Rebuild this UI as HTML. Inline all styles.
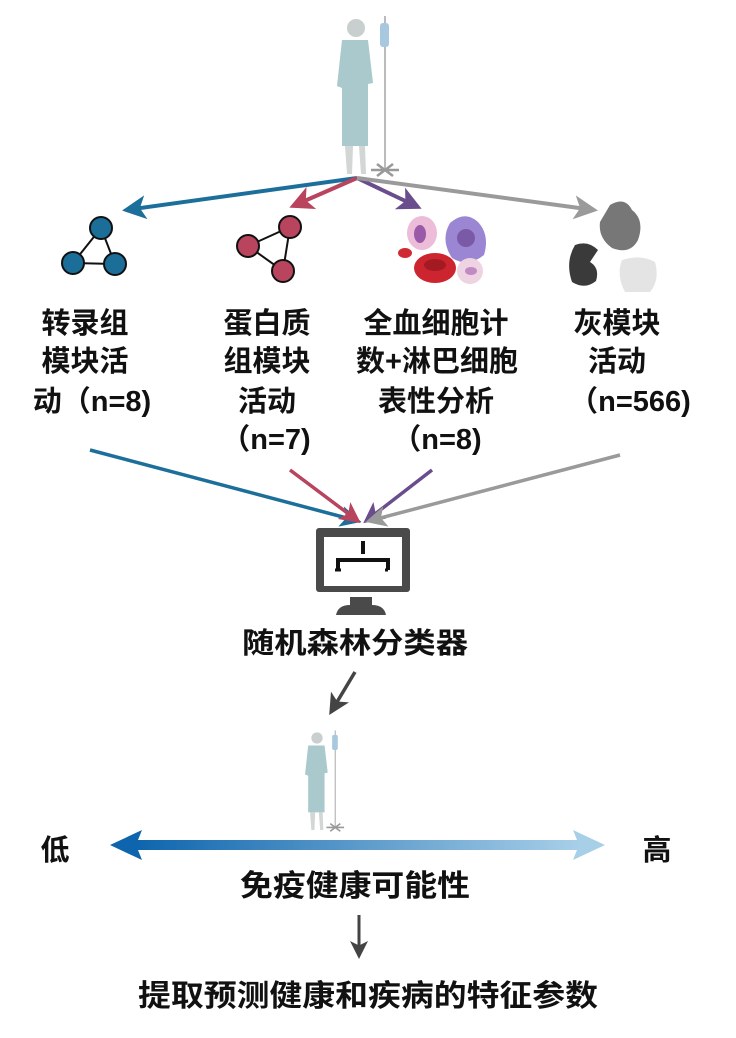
<!DOCTYPE html>
<html><head><meta charset="utf-8"><style>
body{margin:0;background:#fff}
text{font-family:"Liberation Sans","Noto Sans CJK SC",sans-serif;font-weight:bold;fill:#111}
</style></head><body>
<svg width="736" height="1033" viewBox="0 0 736 1033" xmlns="http://www.w3.org/2000/svg">
<defs>
<marker id="mb" markerWidth="6" markerHeight="6" refX="5" refY="3" orient="auto" markerUnits="strokeWidth"><path d="M0,0 L6,3 L0,6 L1.5,3z" fill="#1b6f9a"/></marker>
<marker id="mr" markerWidth="6" markerHeight="6" refX="5" refY="3" orient="auto" markerUnits="strokeWidth"><path d="M0,0 L6,3 L0,6 L1.5,3z" fill="#b8445e"/></marker>
<marker id="mp" markerWidth="6" markerHeight="6" refX="5" refY="3" orient="auto" markerUnits="strokeWidth"><path d="M0,0 L6,3 L0,6 L1.5,3z" fill="#6a4d8c"/></marker>
<marker id="mg" markerWidth="6" markerHeight="6" refX="5" refY="3" orient="auto" markerUnits="strokeWidth"><path d="M0,0 L6,3 L0,6 L1.5,3z" fill="#9a9a9a"/></marker>
<marker id="md" markerWidth="6" markerHeight="6" refX="5" refY="3" orient="auto" markerUnits="strokeWidth"><path d="M0,0 L6,3 L0,6 L1.5,3z" fill="#444"/></marker>
<linearGradient id="gb" x1="0" x2="1"><stop offset="0" stop-color="#0e65ad"/><stop offset="1" stop-color="#a8cfe8"/></linearGradient>
<g id="pat">
<circle cx="0" cy="0" r="9" fill="#c9cfce"/>
<path d="M-14,12 L12,12 L17,55 L12,56 L12,118 L-14,118 L-14,60 L-19,58z" fill="#a9c9cc"/>
<path d="M-11,118 L-9,146 L-4,146 L-3,118z M3,118 L5,146 L10,146 L9,118z" fill="#d2d6d5"/>
<line x1="29" y1="-12" x2="29" y2="142" stroke="#bbb" stroke-width="2"/>
<rect x="24" y="-5" width="9" height="24" rx="3" fill="#a8c8e0"/>
<path d="M15,142 L43,142 M21,136 L37,148 M37,136 L21,148" stroke="#999" stroke-width="2.5"/>
</g>
</defs>

<!-- top patient -->
<use href="#pat" x="356" y="28"/>

<!-- top arrows -->
<g stroke-width="4" fill="none">
<line x1="357" y1="178" x2="126" y2="210" stroke="#1b6f9a" marker-end="url(#mb)"/>
<line x1="357" y1="178" x2="293" y2="206" stroke="#b8445e" marker-end="url(#mr)"/>
<line x1="357" y1="178" x2="418" y2="207" stroke="#6a4d8c" marker-end="url(#mp)"/>
<line x1="357" y1="178" x2="594" y2="210" stroke="#9a9a9a" marker-end="url(#mg)"/>
</g>

<!-- blue network -->
<g stroke="#111" stroke-width="2">
<line x1="101" y1="228" x2="73" y2="263"/><line x1="101" y1="228" x2="115" y2="264"/><line x1="73" y1="263" x2="115" y2="264"/>
<circle cx="101" cy="228" r="11" fill="#1a6e98"/><circle cx="73" cy="263" r="11" fill="#1a6e98"/><circle cx="115" cy="264" r="11" fill="#1a6e98"/>
<line x1="248" y1="246" x2="290" y2="227" stroke="#111"/><line x1="290" y1="227" x2="283" y2="271"/><line x1="248" y1="246" x2="283" y2="271"/>
<circle cx="248" cy="246" r="11" fill="#b8445e"/><circle cx="290" cy="227" r="11" fill="#b8445e"/><circle cx="283" cy="271" r="11" fill="#b8445e"/>
</g>
<!-- cells -->
<ellipse cx="422" cy="233" rx="15" ry="17" fill="#ecbcd8"/><ellipse cx="420" cy="234" rx="6" ry="9" fill="#9a5aa8"/>
<path d="M450,223 Q465,210 478,222 Q490,235 484,255 Q468,268 452,258 Q440,240 450,223z" fill="#9a86d2"/><circle cx="466" cy="238" r="9" fill="#7a5aa6"/>
<ellipse cx="405" cy="253" rx="7" ry="5" fill="#d02a32"/>
<ellipse cx="435" cy="268" rx="21" ry="15" fill="#cd2530"/><ellipse cx="435" cy="265" rx="11" ry="6" fill="#a31a22"/>
<circle cx="470" cy="271" r="13" fill="#eed3e2"/><ellipse cx="471" cy="271" rx="6" ry="4" fill="#c08ac2"/>
<!-- proteins -->
<path d="M610,205 Q625,196 632,210 Q645,220 638,240 Q630,255 612,248 Q598,238 600,222z" fill="#777"/>
<path d="M575,245 Q588,240 598,250 L590,262 Q600,268 596,281 Q585,290 572,282 Q565,262 575,245z" fill="#3a3a3a"/>
<path d="M622,260 Q640,254 655,262 Q660,280 650,292 L625,292 Q616,275 622,260z" fill="#e4e4e4"/>

<!-- labels -->
<g font-size="29">
<text x="85" y="333" text-anchor="middle">转录组</text>
<text x="85" y="371" text-anchor="middle">模块活</text>
<text x="92" y="411" text-anchor="middle">动（n=8)</text>
<text x="267" y="333" text-anchor="middle">蛋白质</text>
<text x="267" y="371" text-anchor="middle">组模块</text>
<text x="267" y="411" text-anchor="middle">活动</text>
<text x="266" y="449" text-anchor="middle">（n=7)</text>
<text x="436" y="333" text-anchor="middle">全血细胞计</text>
<text x="437" y="371" text-anchor="middle">数+淋巴细胞</text>
<text x="436" y="411" text-anchor="middle">表性分析</text>
<text x="437" y="449" text-anchor="middle">（n=8)</text>
<text x="617" y="333" text-anchor="middle">灰模块</text>
<text x="617" y="371" text-anchor="middle">活动</text>
<text x="630" y="411" text-anchor="middle">（n=566)</text>
</g>

<!-- bottom arrows -->
<g stroke-width="3.5" fill="none">
<line x1="90" y1="450" x2="358" y2="521" stroke="#1b6f9a" marker-end="url(#mb)"/>
<line x1="290" y1="470" x2="358" y2="521" stroke="#b8445e" marker-end="url(#mr)"/>
<line x1="432" y1="470" x2="366" y2="521" stroke="#6a4d8c" marker-end="url(#mp)"/>
<line x1="620" y1="455" x2="369" y2="521" stroke="#9a9a9a" marker-end="url(#mg)"/>
</g>

<!-- monitor -->
<rect x="316" y="528" width="94" height="64" rx="3" fill="#4a4a4a"/>
<rect x="324" y="537" width="78" height="49" fill="#fff"/>
<path d="M363,541 V554 M338,570 V560 H388 V570" stroke="#111" stroke-width="4" fill="none"/>
<path d="M338,570 h-3 M338,570 h3 M388,570 h-3" stroke="#111" stroke-width="3"/>
<rect x="350" y="597" width="22" height="9" fill="#4a4a4a"/>
<path d="M336,615 Q338,605 350,605 H372 Q384,605 386,615z" fill="#4a4a4a"/>

<text x="355" y="653" text-anchor="middle" font-size="29" textLength="226" lengthAdjust="spacingAndGlyphs">随机森林分类器</text>

<line x1="355" y1="672" x2="331" y2="712" stroke="#444" stroke-width="3.5" marker-end="url(#md)"/>

<use href="#pat" x="317" y="738" transform="translate(317,738) scale(0.63) translate(-317,-738)"/>

<!-- double arrow -->
<rect x="135" y="840" width="445" height="10" fill="url(#gb)"/>
<path d="M110,845 L142,830 L136,845 L142,860z" fill="#0e65ad"/>
<path d="M605,845 L573,830 L579,845 L573,860z" fill="#a8cfe8"/>
<text x="55" y="860" text-anchor="middle" font-size="29">低</text>
<text x="657" y="860" text-anchor="middle" font-size="29">高</text>

<text x="355" y="896" text-anchor="middle" font-size="30" textLength="230" lengthAdjust="spacingAndGlyphs">免疫健康可能性</text>
<line x1="359" y1="915" x2="359" y2="956" stroke="#444" stroke-width="3" marker-end="url(#md)"/>
<text x="368" y="1006" text-anchor="middle" font-size="30" textLength="460" lengthAdjust="spacingAndGlyphs">提取预测健康和疾病的特征参数</text>
</svg>
</body></html>
